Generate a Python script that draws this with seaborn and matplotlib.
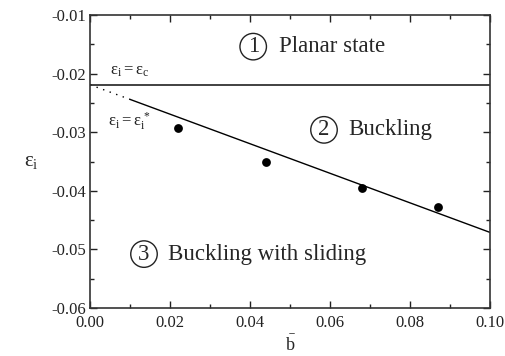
import matplotlib
matplotlib.use("Agg")
import matplotlib.pyplot as plt
import seaborn as sns

# ---- data ----
b_points = [0.022, 0.044, 0.068, 0.087]
eps_points = [-0.0293, -0.0350, -0.0395, -0.0427]

eps_c_x = [0.0, 0.10]
eps_c_y = [-0.0219, -0.0219]

fit_x = [0.01, 0.10]
fit_y = [-0.0244, -0.0471]

extrap_x = [0.0, 0.01]
extrap_y = [-0.0219, -0.0244]

x_ticks = [0.00, 0.02, 0.04, 0.06, 0.08, 0.10]
y_ticks = [-0.06, -0.05, -0.04, -0.03, -0.02, -0.01]

sns.set_style("ticks")
plt.rcParams['font.family'] = 'serif'
plt.rcParams['font.serif'] = ['Liberation Serif', 'DejaVu Serif']
plt.rcParams['mathtext.fontset'] = 'custom'
plt.rcParams['mathtext.rm'] = 'Liberation Serif'
plt.rcParams['mathtext.it'] = 'Liberation Serif'
plt.rcParams['mathtext.bf'] = 'Liberation Serif'

fig = plt.figure(figsize=(5.06, 3.56), dpi=100)
ax = fig.add_axes([90/506, 1 - 308/356, 400/506, 293/356])

sns.lineplot(x=eps_c_x, y=eps_c_y, ax=ax, color='#333333', lw=1.3)
sns.lineplot(x=fit_x, y=fit_y, ax=ax, color='black', lw=1.0)
sns.lineplot(x=extrap_x, y=extrap_y, ax=ax, color='black', lw=1.0,
             linestyle=(0, (1, 4)))
sns.scatterplot(x=b_points, y=eps_points, ax=ax, color='black', s=40,
                edgecolor='black', linewidth=0, zorder=5)

ax.set_xlim(0, 0.10)
ax.set_ylim(-0.06, -0.01)
ax.set_xticks(x_ticks)
ax.set_xticklabels([f"{v:.2f}" for v in x_ticks])
ax.set_yticks(y_ticks)
ax.set_yticklabels([f"{v:.2f}" for v in y_ticks])
ax.set_xticks([0.01, 0.03, 0.05, 0.07, 0.09], minor=True)
ax.set_yticks([-0.055, -0.045, -0.035, -0.025, -0.015], minor=True)
ax.tick_params(which='both', direction='in', top=True, right=True,
               labeltop=False, labelright=False, labelsize=12, colors='#222222',
               width=1.0)
ax.tick_params(which='major', length=5)
ax.tick_params(which='minor', length=3)
ax.tick_params(axis='x', pad=5)
ax.tick_params(axis='y', pad=3)
for s in ax.spines.values():
    s.set_linewidth(1.2)
    s.set_color('#333333')

ax.set_xlabel(r"$\bar{\mathrm{b}}$", fontsize=13, labelpad=3)
ax.set_ylabel(r"$\mathrm{\varepsilon}_{\mathrm{i}}$", fontsize=15, rotation=0,
              labelpad=14, va='center')

circ = dict(boxstyle='circle,pad=0.12', fc='white', ec='#222222', lw=1.0)
big = 16.5
ax.text(0.0408, -0.0154, "1", fontsize=big, ha='center', va='center', bbox=circ)
ax.text(0.0473, -0.0154, "Planar state", fontsize=big, ha='left', va='center')
ax.text(0.0585, -0.0296, "2", fontsize=big, ha='center', va='center', bbox=circ)
ax.text(0.0645, -0.0296, "Buckling", fontsize=big, ha='left', va='center')
ax.text(0.0135, -0.0508, "3", fontsize=big, ha='center', va='center', bbox=circ)
ax.text(0.0195, -0.0508, "Buckling with sliding", fontsize=big, ha='left', va='center')

ax.text(0.005, -0.0196, r"$\mathrm{\varepsilon}_{\mathrm{i}} = \mathrm{\varepsilon}_{\mathrm{c}}$",
        fontsize=12, ha='left', va='center', color='#222222')
ax.text(0.0045, -0.0282, r"$\mathrm{\varepsilon}_{\mathrm{i}} = \mathrm{\varepsilon}_{\mathrm{i}}^{\,*}$",
        fontsize=12, ha='left', va='center', color='#222222')

fig.savefig("out.png", dpi=100)
